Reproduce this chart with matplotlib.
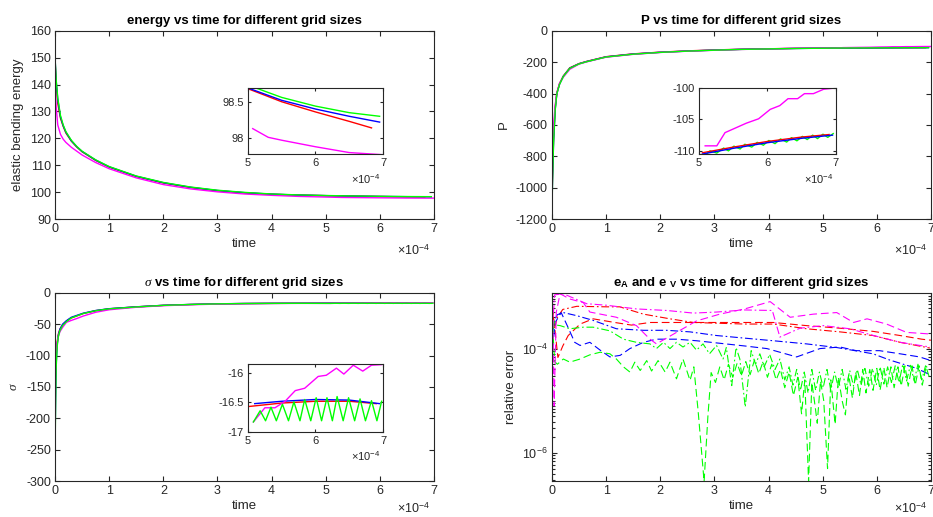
import numpy as np
import matplotlib
matplotlib.use('Agg')
from matplotlib import pyplot as plt
import matplotlib.ticker as mtick

plt.rcParams['font.family'] = ['Liberation Sans', 'DejaVu Sans']
plt.rcParams['mathtext.fontset'] = 'custom'
plt.rcParams['mathtext.rm'] = 'Liberation Sans'
plt.rcParams['mathtext.it'] = 'Liberation Serif:italic'
plt.rcParams['mathtext.bf'] = 'Liberation Sans:bold'
plt.rcParams['axes.unicode_minus'] = False

RED, BLUE, GREEN, MAG = '#ff0000', '#0000ff', '#00ff00', '#ff00ff'
INK = '#262626'

# ---- energy (time in units of 1e-4) ----
energy_t = [0, 0.02, 0.05, 0.1, 0.15, 0.2, 0.3, 0.4, 0.5, 0.75, 1.0, 1.5, 2.0, 2.5, 3.0,
            3.5, 4.0, 4.5, 5.0, 5.5, 6.0, 6.5, 6.95]
energy_green = [150, 142, 135, 128.5, 125, 122.5, 119.3, 117, 115.2, 112, 109.5, 106, 103.6,
                101.9, 100.7, 99.9, 99.3, 98.95, 98.73, 98.56, 98.44, 98.35, 98.30]
energy_blue = [150, 141.5, 134.5, 128, 124.7, 122.3, 119.1, 116.9, 115.1, 111.9, 109.4, 105.9,
               103.5, 101.8, 100.6, 99.8, 99.25, 98.9, 98.69, 98.52, 98.40, 98.30, 98.22]
energy_red_t = [0, 0.02, 0.05, 0.1, 0.15, 0.2, 0.3, 0.4, 0.5, 0.75, 1.0, 1.5, 2.0, 2.5, 3.0,
                3.5, 4.0, 4.5, 5.0, 5.5, 6.0, 6.5, 6.83]
energy_red = [149, 140, 133, 127.5, 124.5, 122, 119, 116.8, 115, 111.8, 109.3, 105.8, 103.4,
              101.7, 100.5, 99.7, 99.2, 98.88, 98.68, 98.50, 98.36, 98.23, 98.14]
energy_mag_t = [0, 0.02, 0.05, 0.1, 0.15, 0.2, 0.3, 0.5, 0.75, 1.0, 1.5, 2.0, 2.5, 3.0, 3.5,
                4.0, 4.5, 5.07, 5.3, 5.5, 6.0, 6.5, 7.0]
energy_mag = [140, 132, 125, 121.5, 119.7, 118.5, 116.7, 113.8, 111, 108.7, 105.3, 102.8, 101.2,
              100.1, 99.3, 98.8, 98.4, 98.13, 98.01, 97.97, 97.88, 97.80, 97.77]

# ---- P ----
p_t = [0, 0.01, 0.03, 0.06, 0.09, 0.14, 0.21, 0.33, 0.5, 0.64, 1.0, 1.5, 2.0, 2.5, 3.0, 3.5,
       4.0, 4.5, 5.05, 5.5, 6.0, 6.5, 6.95]
p_blue = [-1150, -950, -700, -500, -400, -340, -290, -238, -210, -196, -166, -148, -137, -129,
          -123, -118, -115, -112.5, -110.5, -109.6, -108.7, -108.0, -107.5]
p_red_t = [0, 0.01, 0.03, 0.06, 0.09, 0.14, 0.21, 0.33, 0.5, 0.64, 1.0, 1.5, 2.0, 2.5, 3.0, 3.5,
           4.0, 4.5, 5.05, 5.5, 6.0, 6.5, 6.9]
p_red = [-1100, -920, -680, -490, -395, -336, -288, -236, -209, -195, -165, -147, -136, -128,
         -122, -117.5, -114.5, -112, -110.3, -109.4, -108.5, -107.8, -107.4]
p_green_t = [0, 0.01, 0.03, 0.06, 0.09, 0.14, 0.21, 0.33, 0.5, 0.64, 1.0, 1.5, 2.0, 2.5, 3.0,
             3.5, 4.0, 4.5, 5.09, 5.16, 5.26, 5.36, 5.43, 5.51, 5.60, 5.67, 5.77, 5.85, 5.94,
             6.02, 6.11, 6.19, 6.28, 6.35, 6.43, 6.51, 6.58, 6.66, 6.73, 6.81, 6.88, 6.96]
p_green = [-1170, -960, -710, -505, -402, -342, -291, -239, -211, -197, -167, -149, -137.5,
           -129.5, -123.5, -118.5, -115.2, -112.7, -110.7, -110.0, -110.35, -109.55, -110.0,
           -109.25, -109.7, -108.95, -109.4, -108.65, -109.1, -108.35, -108.85, -108.1, -108.6,
           -107.9, -108.4, -107.7, -108.2, -107.5, -108.05, -107.35, -107.85, -107.25]
p_mag_t = [0, 0.01, 0.03, 0.06, 0.09, 0.14, 0.21, 0.33, 0.5, 0.64, 1.0, 1.5, 2.0, 2.5, 3.0, 3.5,
           4.0, 4.5, 5.09, 5.26, 5.38, 5.69, 5.87, 6.04, 6.18, 6.30, 6.44, 6.54, 6.67, 6.82, 7.0]
p_mag = [-850, -750, -600, -470, -400, -335, -295, -245, -212, -198, -168, -150, -138, -130,
         -124, -119, -115, -111.5, -109.2, -109.2, -107.1, -105.6, -104.9, -103.4, -102.8,
         -101.7, -101.7, -100.9, -100.9, -100.2, -100.0]

# ---- sigma ----
s_t = [0, 0.01, 0.02, 0.04, 0.06, 0.09, 0.14, 0.21, 0.3, 0.52, 0.75, 1.0, 1.5, 2.0, 2.5, 3.0,
       3.5, 4.0, 4.5, 5.1, 5.5, 6.0, 6.5, 6.95]
s_blue = [-240, -170, -115, -82, -68, -58, -50, -44.5, -39, -32.5, -28.2, -25.3, -22.3, -19.9,
          -18.5, -17.5, -17.0, -16.75, -16.6, -16.52, -16.48, -16.45, -16.46, -16.52]
s_red_t = [0, 0.01, 0.02, 0.04, 0.06, 0.09, 0.14, 0.21, 0.3, 0.52, 0.75, 1.0, 1.5, 2.0, 2.5,
           3.0, 3.5, 4.0, 4.5, 5.0, 5.5, 6.0, 6.5, 6.9]
s_red = [-150, -120, -95, -78, -66, -58, -51, -45, -40, -33, -28.5, -25.5, -22.4, -20.0, -18.6,
         -17.6, -17.05, -16.8, -16.65, -16.57, -16.51, -16.48, -16.48, -16.52]
s_green_t = [0, 0.01, 0.02, 0.04, 0.06, 0.09, 0.14, 0.21, 0.3, 0.52, 0.75, 1.0, 1.5, 2.0, 2.5,
             3.0, 3.5, 4.0, 4.5, 5.08, 5.18, 5.26, 5.34, 5.42, 5.51, 5.60, 5.68, 5.77, 5.84,
             5.93, 6.01, 6.09, 6.17, 6.25, 6.32, 6.41, 6.49, 6.58, 6.66, 6.74, 6.83, 6.91, 6.98]
s_green = [-255, -180, -120, -85, -70, -60, -52, -46, -40, -33, -28.5, -25.5, -22.5, -20, -18.6,
           -17.6, -17.1, -16.8, -16.65, -16.83, -16.64, -16.81, -16.58, -16.81, -16.53, -16.81,
           -16.49, -16.81, -16.45, -16.81, -16.42, -16.81, -16.42, -16.81, -16.40, -16.81,
           -16.42, -16.81, -16.44, -16.81, -16.47, -16.81, -16.48]
s_mag_t = [0, 0.01, 0.02, 0.04, 0.06, 0.09, 0.14, 0.21, 0.3, 0.4, 0.52, 0.75, 1.0, 1.5, 2.0, 2.5,
           3.0, 3.5, 4.0, 4.5, 5.08, 5.25, 5.40, 5.55, 5.70, 5.84, 6.04, 6.16, 6.31, 6.42, 6.56,
           6.70, 6.83, 6.98]
s_mag = [-145, -120, -95, -80, -70, -62, -55, -47, -44, -41, -37, -31, -27, -23, -20.5, -19, -18,
         -17.4, -17.0, -16.8, -16.83, -16.59, -16.59, -16.48, -16.30, -16.26, -16.06, -16.04,
         -15.92, -16.02, -15.87, -15.97, -15.87, -15.86]

# ---- relative errors, log10 values (eA dashed, eV dash-dot) ----
red_eA_t = [0.01, 0.04, 0.11, 0.2, 0.3, 0.52, 0.76, 1.16, 1.47, 1.81, 2.55, 3.56, 4.09, 4.70,
            5.32, 5.93, 6.43, 6.83, 7.0]
red_eA = [-3.2, -3.5, -4.17, -3.95, -3.75, -3.53, -3.43, -3.50, -3.55, -3.50, -3.50, -3.50,
          -3.50, -3.56, -3.61, -3.67, -3.75, -3.82, -3.84]
red_eV_t = [0.01, 0.05, 0.1, 0.2, 0.46, 1.01, 1.25, 1.69, 2.18, 2.61, 3.56, 4.09, 4.70, 5.32,
            5.93, 6.43, 6.98]
red_eV = [-3.3, -3.6, -3.4, -3.25, -3.19, -3.20, -3.20, -3.34, -3.43, -3.50, -3.53, -3.53,
          -3.62, -3.68, -3.75, -3.88, -3.99]
blue_eA_t = [0.01, 0.06, 0.17, 0.3, 0.42, 0.52, 0.70, 0.89, 1.07, 1.26, 1.44, 1.69, 1.93, 2.30,
             2.67, 3.56, 3.97, 4.52, 4.95, 5.32, 5.62, 6.05, 6.43, 6.79, 7.0]
blue_eA = [-4.0, -3.5, -3.31, -3.6, -3.88, -3.94, -3.88, -4.03, -4.16, -4.13, -4.00, -3.88,
           -3.82, -3.82, -3.85, -3.95, -4.00, -4.16, -4.00, -3.97, -4.04, -4.04, -4.10, -4.16,
           -4.23]
blue_eV_t = [0.01, 0.05, 0.1, 0.21, 0.46, 0.76, 1.19, 1.69, 2.12, 2.55, 3.04, 3.56, 4.09, 4.70,
             5.26, 5.93, 6.24, 6.74, 6.98]
blue_eV = [-3.7, -3.45, -3.35, -3.31, -3.37, -3.46, -3.62, -3.65, -3.65, -3.68, -3.75, -3.80,
           -3.85, -3.91, -3.98, -4.10, -4.22, -4.38, -4.50]
mag_eA_t = [0.01, 0.04, 0.08, 0.15, 0.33, 0.58, 0.70, 1.19, 1.56, 1.81, 1.93, 2.30, 2.67, 3.10,
            3.56, 4.03, 4.40, 4.83, 5.26, 5.57, 5.82, 6.18, 6.55, 6.98]
mag_eA = [-3.0, -5.1, -3.3, -2.95, -3.05, -3.12, -3.30, -3.40, -3.56, -3.82, -3.91, -3.69,
          -3.47, -3.34, -3.24, -3.10, -3.40, -3.34, -3.31, -3.50, -3.43, -3.53, -3.69, -3.72]
mag_eV_t = [0.01, 0.05, 0.21, 0.64, 1.01, 1.56, 2.12, 2.61, 3.04, 3.56, 4.07, 4.21, 4.58, 5.01,
            5.50, 5.94, 6.43, 6.98]
mag_eV = [-3.6, -2.97, -2.95, -3.14, -3.17, -3.24, -3.27, -3.32, -3.30, -3.26, -3.27, -3.78,
          -3.61, -3.56, -3.62, -3.75, -3.88, -3.97]
green_eA_t = [0.01, 0.05, 0.10, 0.21, 0.33, 0.52, 0.70, 0.89, 1.07, 1.19, 1.32, 1.44, 1.53, 1.63,
              1.75, 1.84, 1.96, 2.09, 2.18, 2.30, 2.42, 2.55, 2.62, 2.70, 2.81, 2.88, 2.94, 3.02,
              3.10, 3.18, 3.26, 3.34, 3.42, 3.50, 3.58, 3.66, 3.74, 3.82, 3.90, 3.98, 4.06, 4.14,
              4.22, 4.30, 4.38, 4.46, 4.54, 4.61, 4.67, 4.74, 4.80, 4.86, 4.90, 4.96, 5.02, 5.09,
              5.15, 5.23, 5.29, 5.36, 5.42, 5.48, 5.55, 5.61, 5.68, 5.74, 5.80, 5.87, 5.93, 6.00,
              6.06, 6.13, 6.19, 6.26, 6.32, 6.39, 6.45, 6.52, 6.58, 6.65, 6.71, 6.78, 6.84, 6.91,
              6.97]
green_eA = [-3.55, -4.25, -4.30, -4.20, -4.26, -4.20, -4.12, -4.07, -4.10, -4.20, -4.35, -4.45,
            -4.26, -4.42, -4.23, -4.43, -4.23, -4.45, -4.26, -4.58, -4.20, -4.61, -4.35, -5.2,
            -6.55, -5.3, -4.46, -4.65, -4.35, -4.60, -4.30, -4.55, -4.28, -4.52, -4.25, -4.50,
            -4.22, -4.48, -4.25, -4.55, -4.30, -4.60, -4.40, -4.75, -4.45, -4.90, -4.55, -5.25,
            -4.60, -6.55, -4.65, -5.10, -5.43, -4.62, -5.00, -6.30, -4.60, -5.45, -4.55, -5.00,
            -5.27, -4.50, -4.95, -4.45, -4.90, -4.40, -4.85, -4.40, -4.80, -4.38, -4.80, -4.36,
            -4.75, -4.35, -4.75, -4.35, -4.72, -4.33, -4.72, -4.33, -4.70, -4.33, -4.70, -4.35,
            -4.55]
green_eV_t = [0.01, 0.04, 0.08, 0.15, 0.33, 0.58, 0.76, 1.07, 1.32, 1.56, 1.81, 1.93, 2.06, 2.18,
              2.30, 2.42, 2.55, 2.67, 2.79, 2.91, 3.04, 3.16, 3.22, 3.32, 3.40, 3.47, 3.57, 3.68,
              3.76, 3.84, 3.92, 4.02, 4.12, 4.21, 4.30, 4.38, 4.45, 4.52, 4.59, 4.66, 4.73, 4.80,
              4.87, 4.94, 5.01, 5.08, 5.15, 5.22, 5.29, 5.36, 5.43, 5.50, 5.57, 5.64, 5.71, 5.78,
              5.85, 5.92, 5.99, 6.06, 6.13, 6.20, 6.27, 6.34, 6.41, 6.48, 6.55, 6.62, 6.69, 6.76,
              6.83, 6.90, 6.97]
green_eV = [-3.9, -3.45, -3.55, -3.56, -3.62, -3.59, -3.59, -3.66, -3.82, -3.88, -3.91, -4.00,
            -3.88, -4.00, -3.88, -3.97, -3.88, -4.03, -3.91, -4.10, -3.94, -4.20, -3.98, -4.71,
            -3.98, -4.20, -5.12, -4.04, -4.30, -4.10, -4.35, -4.11, -4.40, -4.20, -4.60, -4.35,
            -4.70, -4.40, -4.80, -4.45, -4.85, -4.40, -4.80, -4.45, -4.75, -4.40, -4.80, -4.45,
            -4.75, -4.40, -4.78, -4.42, -4.72, -4.40, -4.70, -4.38, -4.72, -4.38, -4.70, -4.35,
            -4.68, -4.35, -4.65, -4.33, -4.65, -4.30, -4.62, -4.32, -4.62, -4.30, -4.60, -4.33,
            -4.40]

DASH = (0, (7, 3.5))
DASHDOT = (0, (7, 2.5, 1.5, 2.5))


def style_ax(ax, size=9, length=3.5):
    ax.tick_params(which='both', direction='in', top=True, right=True, length=length,
                   width=0.8, labelsize=size, colors=INK, pad=3)
    ax.tick_params(which='minor', length=2)
    for s in ax.spines.values():
        s.set_linewidth(0.8)
        s.set_color(INK)


def mult(ax, x, y, size):
    # the "x10^-4" factor under the right end of the time axis
    ax.text(x, y, '×10$^{-4}$', transform=ax.transAxes, ha='right', va='center',
            fontsize=size, color=INK)


def draw(ax, series, inset=False):
    for t, v, c, z in series:
        t = np.asarray(t)
        v = np.asarray(v)
        if inset:
            keep = t >= 5.0
            t, v = t[keep], v[keep]
        ax.plot(t, v, color=c, lw=1.0, zorder=z)


fig = plt.figure(figsize=(9.33, 5.17), dpi=100)

ax_w, ax_h = 0.4062, 0.3640
pos = {'tl': [0.0590, 0.5764], 'tr': [0.5916, 0.5764],
       'bl': [0.0590, 0.0696], 'br': [0.5916, 0.0696]}

# energy
ax1 = fig.add_axes(pos['tl'] + [ax_w, ax_h])
e_series = [(energy_red_t, energy_red, RED, 2), (energy_t, energy_blue, BLUE, 2.1),
            (energy_mag_t, energy_mag, MAG, 2.2), (energy_t, energy_green, GREEN, 2.3)]
draw(ax1, e_series)
ax1.set_xlim(0, 7)
ax1.set_ylim(90, 160)
ax1.set_title('energy vs time for different grid sizes', fontsize=9.5, fontweight='bold',
              color='black', pad=5)
ax1.set_xlabel('time', fontsize=9.5, color=INK, labelpad=2)
ax1.set_ylabel('elastic bending energy', fontsize=9.5, color=INK)
style_ax(ax1)
mult(ax1, 0.99, -0.17, 9)

in1 = fig.add_axes([0.2658, 0.7021, 0.1447, 0.1277])
draw(in1, e_series, inset=True)
in1.set_xlim(5, 7)
in1.set_ylim(97.78, 98.69)
in1.set_xticks([5, 6, 7])
in1.set_yticks([98, 98.5])
in1.yaxis.set_major_formatter(mtick.FormatStrFormatter('%g'))
style_ax(in1, size=8, length=2.5)
mult(in1, 0.98, -0.38, 8)

# P
ax2 = fig.add_axes(pos['tr'] + [ax_w, ax_h])
p_series = [(p_red_t, p_red, RED, 2), (p_t, p_blue, BLUE, 2.1), (p_mag_t, p_mag, MAG, 2.2),
            (p_green_t, p_green, GREEN, 2.3)]
draw(ax2, p_series)
ax2.set_xlim(0, 7)
ax2.set_ylim(-1200, 0)
ax2.set_yticks(np.arange(-1200, 1, 200))
ax2.set_title('P vs time for different grid sizes', fontsize=9.5, fontweight='bold',
              color='black', pad=5)
ax2.set_xlabel('time', fontsize=9.5, color=INK, labelpad=2)
ax2.set_ylabel('P', fontsize=9.5, color=INK)
style_ax(ax2)
mult(ax2, 0.99, -0.17, 9)

in2 = fig.add_axes([0.7492, 0.7021, 0.1468, 0.1277])
p_inset = [(p_green_t, p_green, GREEN, 1.5), (p_red_t, p_red, RED, 2), (p_t, p_blue, BLUE, 2.1),
           (p_mag_t, p_mag, MAG, 2.2)]
draw(in2, p_inset, inset=True)
in2.set_xlim(5, 7)
in2.set_ylim(-110.5, -100)
in2.set_xticks([5, 6, 7])
in2.set_yticks([-110, -105, -100])
style_ax(in2, size=8, length=2.5)
mult(in2, 0.98, -0.38, 8)

# sigma
ax3 = fig.add_axes(pos['bl'] + [ax_w, ax_h])
s_series = [(s_red_t, s_red, RED, 2), (s_t, s_blue, BLUE, 2.1), (s_mag_t, s_mag, MAG, 2.2),
            (s_green_t, s_green, GREEN, 2.3)]
draw(ax3, s_series)
ax3.set_xlim(0, 7)
ax3.set_ylim(-300, 0)
ax3.set_yticks(np.arange(-300, 1, 50))
ax3.set_title(r'$\sigma$ vs time for different grid sizes', fontsize=9.5, fontweight='bold',
              color='black', pad=5)
ax3.set_xlabel('time', fontsize=9.5, color=INK, labelpad=2)
ax3.set_ylabel(r'$\sigma$', fontsize=9.5, color=INK)
style_ax(ax3)
mult(ax3, 0.99, -0.15, 9)

in3 = fig.add_axes([0.2658, 0.1644, 0.1447, 0.1315])
draw(in3, s_series, inset=True)
in3.set_xlim(5, 7)
in3.set_ylim(-17, -15.85)
in3.set_xticks([5, 6, 7])
in3.set_yticks([-17, -16.5, -16])
in3.yaxis.set_major_formatter(mtick.FormatStrFormatter('%g'))
style_ax(in3, size=8, length=2.5)
mult(in3, 0.98, -0.36, 8)

# relative errors
ax4 = fig.add_axes(pos['br'] + [ax_w, ax_h])
err_series = [(red_eA_t, red_eA, RED, DASH), (red_eV_t, red_eV, RED, DASHDOT),
              (blue_eA_t, blue_eA, BLUE, DASH), (blue_eV_t, blue_eV, BLUE, DASHDOT),
              (green_eA_t, green_eA, GREEN, DASH), (green_eV_t, green_eV, GREEN, DASHDOT),
              (mag_eA_t, mag_eA, MAG, DASH), (mag_eV_t, mag_eV, MAG, DASHDOT)]
for t, lv, c, ls in err_series:
    ax4.plot(t, 10.0 ** np.asarray(lv), color=c, lw=0.8, linestyle=ls)
ax4.set_yscale('log')
ax4.set_xlim(0, 7)
ax4.set_ylim(2.9e-7, 1.17e-3)
ax4.yaxis.set_major_locator(mtick.FixedLocator([1e-6, 1e-4]))
ax4.yaxis.set_major_formatter(mtick.LogFormatterMathtext())
ax4.yaxis.set_minor_locator(mtick.LogLocator(base=10, subs=np.arange(1, 10), numticks=30))
ax4.yaxis.set_minor_formatter(mtick.NullFormatter())
ax4.set_title(r'e$_{\mathbf{A}}$ and e $_{\mathbf{V}}$ vs time for different grid sizes',
              fontsize=9.5, fontweight='bold', color='black', pad=5)
ax4.set_xlabel('time', fontsize=9.5, color=INK, labelpad=2)
ax4.set_ylabel('relative error', fontsize=9.5, color=INK)
style_ax(ax4)
mult(ax4, 0.99, -0.15, 9)

fig.savefig('out.png', dpi=100)
